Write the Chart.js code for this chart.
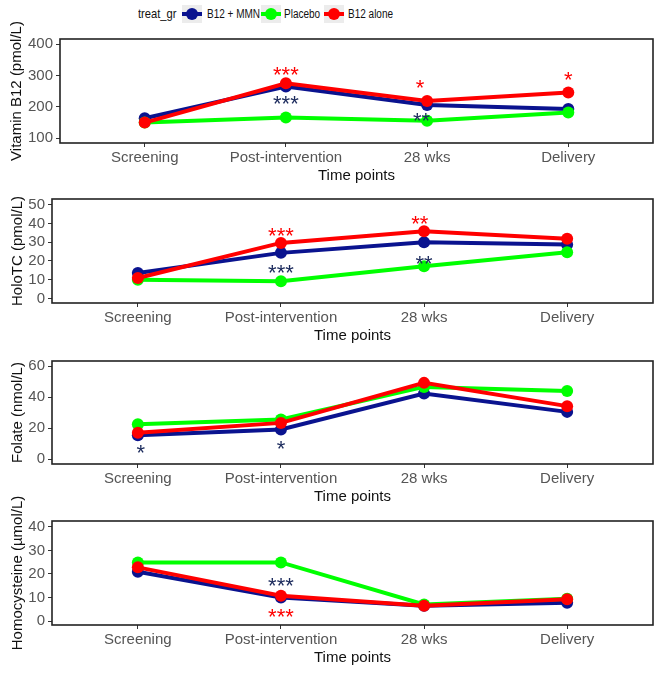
<!DOCTYPE html>
<html><head><meta charset="utf-8">
<script src="https://cdn.jsdelivr.net/npm/chart.js@4/dist/chart.umd.min.js"></script>
<style>
html,body{margin:0;padding:0;background:#fff;width:656px;height:673px;overflow:hidden;position:relative;font-family:"Liberation Sans",Arial,sans-serif;}
canvas{position:absolute;left:0;}
.lt{position:absolute;top:6px;font-size:12.5px;line-height:16px;color:#111;transform-origin:left center;white-space:nowrap;}
.key{position:absolute;top:5px;width:20px;height:18px;background:#ececec;}
.key .ln{position:absolute;left:0;right:0;top:7px;height:4px;}
.key .dt{position:absolute;left:4px;top:3px;width:12px;height:12px;border-radius:50%;}
</style></head><body>
<div id="legend"></div>
<canvas id="c0" width="659" height="156"></canvas>
<canvas id="c1" width="659" height="156"></canvas>
<canvas id="c2" width="659" height="156"></canvas>
<canvas id="c3" width="659" height="156"></canvas>
<script>
// ---- data ----
const categories = ['Screening', 'Post-intervention', '28 wks', 'Delivery'];
const seriesNames = ['B12 + MMN', 'Placebo', 'B12 alone'];
const seriesColors = ['#0a138f', '#00ff00', '#ff0000'];
const legendTitle = 'treat_gr';

const b12Mmn     = [164, 265, 206, 193];
const b12Placebo = [150, 166, 156, 182];
const b12Alone   = [150, 275, 219, 246];
const b12Ticks   = [100, 200, 300, 400];

const holoMmn     = [13.6, 24.3, 30.0, 28.7];
const holoPlacebo = [10.0, 9.1, 17.1, 24.6];
const holoAlone   = [10.9, 29.6, 35.8, 31.8];
const holoTicks   = [0, 10, 20, 30, 40, 50];

const folMmn     = [15.6, 19.3, 42.4, 30.6];
const folPlacebo = [22.7, 25.7, 46.7, 44.1];
const folAlone   = [17.1, 23.5, 49.3, 34.3];
const folTicks   = [0, 20, 40, 60];

const hcyMmn     = [20.9, 10.0, 6.5, 7.8];
const hcyPlacebo = [24.9, 24.9, 7.0, 9.5];
const hcyAlone   = [22.8, 10.7, 6.5, 9.2];
const hcyTicks   = [0, 10, 20, 30, 40];

// significance marks: [category index, value, text, series index]
const b12Marks  = [[1, 320, '***', 2], [1, 228, '***', 0], [1.95, 278, '*', 2], [1.96, 174, '**', 0], [3, 302, '*', 2]];
const holoMarks = [[1, 36.4, '***', 2], [1, 16.3, '***', 0], [1.97, 42.5, '**', 2], [2, 21.2, '**', 0]];
const folMarks  = [[0.02, 7.7, '*', 0], [1, 10.3, '*', 0]];
const hcyMarks  = [[1, 17.1, '***', 0], [1, 3.9, '***', 2]];
const markColors = ['#1b2a5c', '#00ff00', '#ff0000'];

// ---- legend ----
(function(){
  const lg = document.getElementById('legend');
  let h = '<span class="lt" style="left:138px;font-size:13px;transform:scaleX(0.86)">' + legendTitle + '</span>';
  const keyX = [182, 261, 324], txtX = [207, 284, 348];
  seriesNames.forEach((n, i) => {
    h += '<div class="key" style="left:' + keyX[i] + 'px"><div class="ln" style="background:' + seriesColors[i] + '"></div><div class="dt" style="background:' + seriesColors[i] + '"></div></div>';
    h += '<span class="lt" style="left:' + txtX[i] + 'px;transform:scaleX(0.8)">' + n + '</span>';
  });
  lg.innerHTML = h;
})();

const FONT = '"Liberation Sans", Arial, sans-serif';

const framePlugin = {
  id: 'frame',
  afterDatasetsDraw(chart) {
    const a = chart.chartArea, ctx = chart.ctx;
    ctx.save();
    ctx.strokeStyle = '#222';
    ctx.lineWidth = 1.6;
    ctx.strokeRect(a.left, a.top, a.right - a.left, a.bottom - a.top);
    ctx.restore();
    const marks = chart.options.plugins.frame.marks || [];
    ctx.save();
    ctx.font = '22px ' + FONT;
    ctx.textAlign = 'center';
    ctx.textBaseline = 'alphabetic';
    marks.forEach(m => {
      const x = chart.scales.x.getPixelForValue(m[0]);
      const y = chart.scales.y.getPixelForValue(m[1]);
      ctx.fillStyle = markColors[m[3]];
      ctx.fillText(m[2], x, y + 12.5);
    });
    ctx.restore();
  }
};

function makeChart(id, top, chartH, yW, yMin, yMax, yTicks, yTitle, series, marks, titlePad) {
  const cv = document.getElementById(id);
  const padTop = 40;
  const xH = 42;
  cv.height = padTop + chartH + xH;
  cv.style.top = (top - padTop) + 'px';
  const order = [2, 1, 0];
  new Chart(cv, {
    type: 'line',
    data: {
      datasets: series.map((vals, si) => ({
        label: seriesNames[si],
        data: vals.map((v, i) => ({x: i, y: v})),
        borderColor: seriesColors[si],
        backgroundColor: seriesColors[si],
        pointBackgroundColor: seriesColors[si],
        pointBorderWidth: 0,
        pointRadius: 6,
        borderWidth: 4,
        tension: 0,
        fill: false,
        order: order[si]
      }))
    },
    options: {
      responsive: false,
      animation: false,
      events: [],
      layout: {padding: {top: padTop, left: 0, right: 0, bottom: 0}},
      plugins: {legend: {display: false}, tooltip: {enabled: false}, frame: {marks: marks}},
      scales: {
        x: {
          type: 'linear', min: -0.6, max: 3.6,
          afterBuildTicks: s => { s.ticks = categories.map((c, i) => ({value: i})); },
          afterFit: s => { s.height = xH; },
          ticks: {callback: v => categories[v], font: {size: 15, family: FONT}, color: '#555', padding: 2, autoSkip: false, maxRotation: 0},
          grid: {drawOnChartArea: false, drawTicks: true, tickLength: 4, color: '#333', tickWidth: 1},
          border: {display: false},
          title: {display: true, text: 'Time points', font: {size: 15, family: FONT}, color: '#111', padding: {top: 0, bottom: 0}}
        },
        y: {
          min: yMin, max: yMax,
          afterBuildTicks: s => { s.ticks = yTicks.map(v => ({value: v})); },
          afterFit: s => { s.width = yW; },
          ticks: {font: {size: 15, family: FONT}, color: '#555', padding: 3, autoSkip: false},
          grid: {drawOnChartArea: false, drawTicks: true, tickLength: 4, color: '#333', tickWidth: 1},
          border: {display: false},
          title: {display: true, text: yTitle, font: {size: 15, family: FONT}, color: '#111', padding: {top: titlePad, bottom: 0}}
        }
      }
    },
    plugins: [framePlugin]
  });
}

makeChart('c0', 39, 104, 60, 85, 416, b12Ticks, 'Vitamin B12 (pmol/L)', [b12Mmn, b12Placebo, b12Alone], b12Marks, 8);
makeChart('c1', 199, 104, 52, -2.45, 53.04, holoTicks, 'HoloTC (pmol/L)', [holoMmn, holoPlacebo, holoAlone], holoMarks, 9);
makeChart('c2', 361, 103, 52, -3.0, 63.4, folTicks, 'Folate (nmol/L)', [folMmn, folPlacebo, folAlone], folMarks, 9);
makeChart('c3', 521, 104, 52, -1.7, 42.5, hcyTicks, 'Homocysteine (µmol/L)', [hcyMmn, hcyPlacebo, hcyAlone], hcyMarks, 9);
</script>
</body></html>
